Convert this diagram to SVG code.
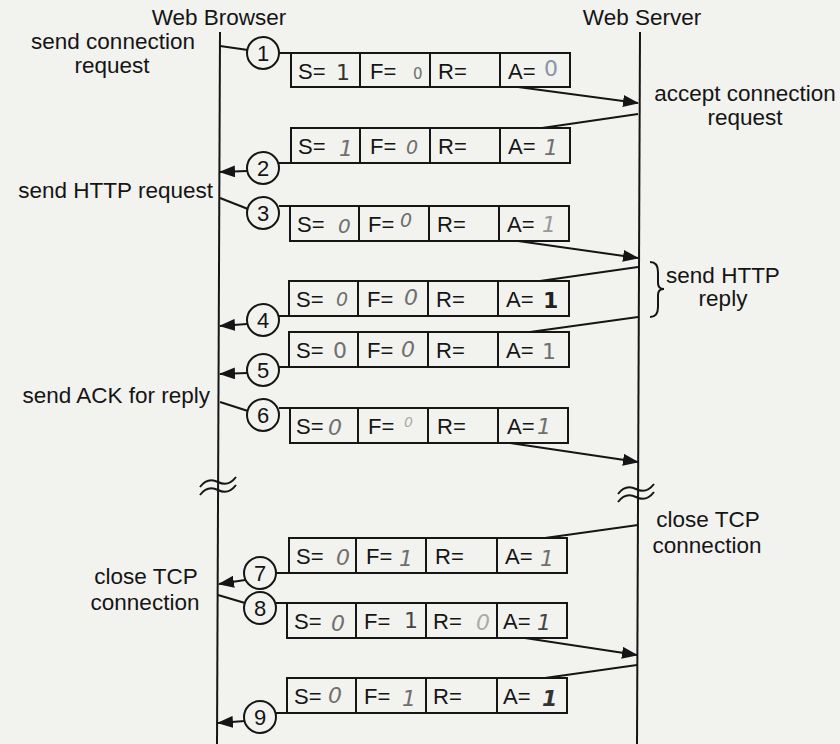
<svg xmlns="http://www.w3.org/2000/svg" width="840" height="744" viewBox="0 0 840 744">
<defs>
<style>
.ln{stroke:#151515;stroke-width:2;fill:none}
.arr{stroke:#151515;stroke-width:2;fill:none;marker-end:url(#ah)}
.cell{fill:none;stroke:#151515;stroke-width:2}
.lbl{font-family:"Liberation Sans",Arial,sans-serif;font-size:22px;fill:#151515}
.hw{font-family:"DejaVu Sans","Liberation Sans",sans-serif;font-size:22px;fill:#6f6f6f;font-style:italic}
.num{font-family:"Liberation Sans",Arial,sans-serif;font-size:22px;fill:#151515;text-anchor:middle}
.circ{fill:#f2f2ef;stroke:#151515;stroke-width:2}
.t{font-family:"Liberation Sans",Arial,sans-serif;font-size:22.5px;fill:#151515}
.mid{text-anchor:middle}
.end{text-anchor:end}
</style>
<marker id="ah" markerUnits="userSpaceOnUse" markerWidth="16" markerHeight="12" refX="15" refY="6" orient="auto"><path d="M0,0 L16,6 L0,12 z" fill="#151515"/></marker>
<path id="brk" d="M-18,5 C-12,-3 -6,-3 0,0 S12,3 18,-5"/>
</defs>
<rect width="840" height="744" fill="#f2f2ef"/>

<g id="browser">
<text class="t mid" x="219" y="25">Web Browser</text>
<line class="ln" x1="220" y1="32" x2="217" y2="744"/>
<use href="#brk" class="ln" x="218" y="482"/>
<use href="#brk" class="ln" x="218" y="490"/>
</g>
<g id="server">
<text class="t mid" x="642" y="25">Web Server</text>
<line class="ln" x1="640" y1="32" x2="637" y2="744"/>
<use href="#brk" class="ln" x="636" y="489"/>
<use href="#brk" class="ln" x="636" y="497"/>
</g>

<g id="labels">
<text class="t mid" x="113" y="49">send connection</text>
<text class="t mid" x="112" y="73">request</text>
<text class="t mid" x="745" y="101">accept connection</text>
<text class="t mid" x="745" y="125">request</text>
<text class="t end" x="213" y="198">send HTTP request</text>
<path class="ln" d="M650,262 Q658,262 658,272 L658,283 Q658,289 664,289 Q658,289 658,295 L658,307 Q658,317 650,317"/>
<text class="t mid" x="723" y="283">send HTTP</text>
<text class="t mid" x="723" y="306">reply</text>
<text class="t end" x="210" y="403">send ACK for reply</text>
<text class="t mid" x="708" y="527">close TCP</text>
<text class="t mid" x="707" y="553">connection</text>
<text class="t mid" x="146" y="584">close TCP</text>
<text class="t mid" x="145" y="610">connection</text>
</g>

<g id="connectors">
<path class="ln" d="M220,46 L248,50"/>
<path class="ln" d="M279,53 L291,53"/>
<path class="arr" d="M518,87 L638,103"/>
<path class="ln" d="M638,114 L542,128"/>
<path class="ln" d="M278,163 L291,163"/>
<path class="arr" d="M247,171 L220,172"/>
<path class="ln" d="M220,198 L248,209"/>
<path class="ln" d="M279,206 L290,206"/>
<path class="arr" d="M518,241 L638,258"/>
<path class="ln" d="M638,267 L540,281"/>
<path class="ln" d="M278,316 L289,316"/>
<path class="arr" d="M247,324 L220,326"/>
<path class="ln" d="M638,317 L530,332"/>
<path class="ln" d="M278,367 L289,367"/>
<path class="arr" d="M247,373 L220,374"/>
<path class="ln" d="M220,402 L248,411"/>
<path class="ln" d="M279,408 L290,408"/>
<path class="arr" d="M510,443 L638,462"/>
<path class="ln" d="M638,525 L545,538"/>
<path class="ln" d="M275,573 L289,573"/>
<path class="arr" d="M245,580 L219,584"/>
<path class="ln" d="M218,595 L245,603"/>
<path class="ln" d="M276,603 L287,603"/>
<path class="arr" d="M525,638 L637,655"/>
<path class="ln" d="M637,665 L545,678"/>
<path class="ln" d="M275,713 L287,713"/>
<path class="arr" d="M245,721 L218,723"/>
</g>

<g id="c1"><circle class="circ" cx="263" cy="53" r="16"/><text class="num" x="263" y="61">1</text></g>
<g id="c2"><circle class="circ" cx="263" cy="168" r="16"/><text class="num" x="263" y="176">2</text></g>
<g id="c3"><circle class="circ" cx="263" cy="213" r="16"/><text class="num" x="263" y="221">3</text></g>
<g id="c4"><circle class="circ" cx="263" cy="320" r="16"/><text class="num" x="263" y="328">4</text></g>
<g id="c5"><circle class="circ" cx="263" cy="370" r="16"/><text class="num" x="263" y="378">5</text></g>
<g id="c6"><circle class="circ" cx="263" cy="415" r="16"/><text class="num" x="263" y="423">6</text></g>
<g id="c7"><circle class="circ" cx="260" cy="573" r="16"/><text class="num" x="260" y="581">7</text></g>
<g id="c8"><circle class="circ" cx="260" cy="608" r="16"/><text class="num" x="260" y="616">8</text></g>
<g id="c9"><circle class="circ" cx="260" cy="717" r="16"/><text class="num" x="260" y="725">9</text></g>

<g id="seg1">
<rect class="cell" x="291" y="53" width="279" height="34"/>
<path class="cell" d="M360,53V87M430,53V87M500,53V87"/>
<text class="lbl" x="298" y="79">S=</text><text class="lbl" x="370" y="79">F=</text><text class="lbl" x="438" y="79">R=</text><text class="lbl" x="508" y="79">A=</text>
<text class="hw" x="336" y="80" style="fill:#333;font-style:normal">1</text>
<text class="hw" x="413" y="79" style="font-size:15px;font-style:normal">0</text>
<text class="hw" x="544" y="76" style="fill:#8a94a8;font-style:normal">0</text>
</g>
<g id="seg2">
<rect class="cell" x="291" y="128" width="279" height="35"/>
<path class="cell" d="M360,128V163M430,128V163M500,128V163"/>
<text class="lbl" x="298" y="154">S=</text><text class="lbl" x="370" y="154">F=</text><text class="lbl" x="438" y="154">R=</text><text class="lbl" x="508" y="154">A=</text>
<text class="hw" x="339" y="156">1</text>
<text class="hw" x="406" y="154" style="font-size:19px">0</text>
<text class="hw" x="544" y="155">1</text>
</g>
<g id="seg3">
<rect class="cell" x="290" y="206" width="279" height="35"/>
<path class="cell" d="M359,206V241M429,206V241M499,206V241"/>
<text class="lbl" x="297" y="232">S=</text><text class="lbl" x="368" y="232">F=</text><text class="lbl" x="437" y="232">R=</text><text class="lbl" x="507" y="232">A=</text>
<text class="hw" x="338" y="233" style="font-size:20px">0</text>
<text class="hw" x="400" y="227" style="font-size:19px">0</text>
<text class="hw" x="542" y="232" style="fill:#999">1</text>
</g>
<g id="seg4">
<rect class="cell" x="289" y="281" width="280" height="35"/>
<path class="cell" d="M358,281V316M428,281V316M498,281V316"/>
<text class="lbl" x="296" y="307">S=</text><text class="lbl" x="367" y="307">F=</text><text class="lbl" x="436" y="307">R=</text><text class="lbl" x="506" y="307">A=</text>
<text class="hw" x="336" y="306" style="font-size:19px">0</text>
<text class="hw" x="404" y="305">0</text>
<text class="hw" x="543" y="308" style="fill:#222;font-weight:bold;font-style:normal">1</text>
</g>
<g id="seg5">
<rect class="cell" x="289" y="332" width="280" height="35"/>
<path class="cell" d="M358,332V367M428,332V367M498,332V367"/>
<text class="lbl" x="296" y="358">S=</text><text class="lbl" x="367" y="358">F=</text><text class="lbl" x="436" y="358">R=</text><text class="lbl" x="506" y="358">A=</text>
<text class="hw" x="333" y="358" style="font-style:normal">0</text>
<text class="hw" x="401" y="357">0</text>
<text class="hw" x="542" y="359" style="font-style:normal">1</text>
</g>
<g id="seg6">
<rect class="cell" x="290" y="408" width="278" height="35"/>
<path class="cell" d="M358,408V443M428,408V443M498,408V443"/>
<text class="lbl" x="296" y="434">S=</text><text class="lbl" x="368" y="434">F=</text><text class="lbl" x="437" y="434">R=</text><text class="lbl" x="507" y="434">A=</text>
<text class="hw" x="328" y="435">0</text>
<text class="hw" x="404" y="427" style="font-size:14px;fill:#aaa">0</text>
<text class="hw" x="537" y="434">1</text>
</g>
<g id="seg7">
<rect class="cell" x="289" y="538" width="278" height="35"/>
<path class="cell" d="M356,538V573M426,538V573M497,538V573"/>
<text class="lbl" x="296" y="564">S=</text><text class="lbl" x="366" y="564">F=</text><text class="lbl" x="435" y="564">R=</text><text class="lbl" x="505" y="564">A=</text>
<text class="hw" x="336" y="565">0</text>
<text class="hw" x="399" y="566">1</text>
<text class="hw" x="540" y="566">1</text>
</g>
<g id="seg8">
<rect class="cell" x="287" y="603" width="280" height="35"/>
<path class="cell" d="M356,603V638M426,603V638M497,603V638"/>
<text class="lbl" x="294" y="629">S=</text><text class="lbl" x="364" y="629">F=</text><text class="lbl" x="433" y="629">R=</text><text class="lbl" x="503" y="629">A=</text>
<text class="hw" x="331" y="631">0</text>
<text class="hw" x="404" y="628" style="font-style:normal;fill:#444">1</text>
<text class="hw" x="476" y="630" style="fill:#aaa">0</text>
<text class="hw" x="537" y="630" style="fill:#444">1</text>
</g>
<g id="seg9">
<rect class="cell" x="287" y="678" width="280" height="35"/>
<path class="cell" d="M356,678V713M426,678V713M497,678V713"/>
<text class="lbl" x="294" y="704">S=</text><text class="lbl" x="364" y="704">F=</text><text class="lbl" x="433" y="704">R=</text><text class="lbl" x="503" y="704">A=</text>
<text class="hw" x="328" y="703">0</text>
<text class="hw" x="402" y="706">1</text>
<text class="hw" x="542" y="706" style="fill:#333;font-weight:bold">1</text>
</g>
</svg>
